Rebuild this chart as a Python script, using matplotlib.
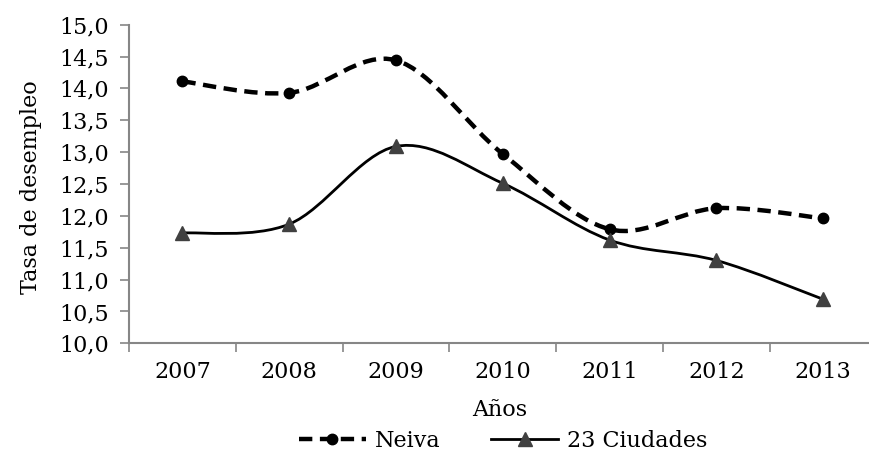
import matplotlib
matplotlib.use("Agg")
import matplotlib.pyplot as plt
from matplotlib.path import Path
from matplotlib.patches import PathPatch
from matplotlib.lines import Line2D
import numpy as np

years = ["2007", "2008", "2009", "2010", "2011", "2012", "2013"]
neiva = [14.11, 13.93, 14.44, 12.97, 11.79, 12.12, 11.96]
ciudades = [11.73, 11.87, 13.09, 12.51, 11.62, 11.30, 10.69]
yticks = [10.0, 10.5, 11.0, 11.5, 12.0, 12.5, 13.0, 13.5, 14.0, 14.5, 15.0]
labels = ["Neiva", "23 Ciudades"]

FONT = "DejaVu Serif"
FS = 16
plt.rcParams["font.family"] = FONT

fig = plt.figure(figsize=(8.7, 4.55), dpi=100)
ax = fig.add_axes([129/870, 1-343.3/455, (876.7-129)/870, (343.3-24.7)/455])


def smooth_path(xs, ys):
    pts = np.column_stack([xs, ys]).astype(float)
    n = len(pts)
    verts = [pts[0]]
    codes = [Path.MOVETO]
    for i in range(n - 1):
        p0 = pts[max(i - 1, 0)]
        p1 = pts[i]
        p2 = pts[i + 1]
        p3 = pts[min(i + 2, n - 1)]
        c1 = p1 + (p2 - p0) / 6.0
        c2 = p2 - (p3 - p1) / 6.0
        verts += [c1, c2, p2]
        codes += [Path.CURVE4] * 3
    return Path(verts, codes)


x = np.arange(len(years))
gray = "#868686"
dash = (0, (3.0, 1.7))

p1 = PathPatch(smooth_path(x, neiva), facecolor="none", edgecolor="black",
               lw=3.2, linestyle=dash, zorder=3)
ax.add_patch(p1)
p2 = PathPatch(smooth_path(x, ciudades), facecolor="none", edgecolor="black",
               lw=2.0, zorder=3)
ax.add_patch(p2)
ax.plot(x, neiva, linestyle="none", marker="o", ms=7.5, color="black", zorder=4)
ax.plot(x, ciudades, linestyle="none", marker="^", ms=9.5, color="#404040", zorder=4)

ax.set_xlim(-0.5, 6.5)
ax.set_ylim(10, 15)
ax.set_yticks(yticks)
ax.set_yticklabels([f"{v:.1f}".replace(".", ",") for v in yticks])
ax.set_xticks(np.arange(-0.5, 7.0, 1.0))
ax.set_xticklabels([])
ax.set_xticks(x, minor=True)
ax.set_xticklabels(years, minor=True)
ax.tick_params(axis="x", which="major", length=6.5, width=1.2, color=gray, direction="out")
ax.tick_params(axis="x", which="minor", length=0, pad=13, labelsize=FS)
ax.tick_params(axis="y", length=6.5, width=1.2, color=gray, direction="out", pad=8, labelsize=FS)
for s in ["top", "right"]:
    ax.spines[s].set_visible(False)
for s in ["left", "bottom"]:
    ax.spines[s].set_color(gray)
    ax.spines[s].set_linewidth(1.5)

fig.text(31/870, 1-187/455, "Tasa de desempleo", rotation=90, ha="center", va="center", fontsize=FS)
fig.text(500/870, 1-410/455, "Años", ha="center", va="center", fontsize=FS)

h1 = Line2D([], [], color="black", lw=3.2, linestyle=dash, marker="o", ms=7.5)
h2 = Line2D([], [], color="black", lw=2.0, marker="^", ms=9.5, markerfacecolor="#404040", markeredgecolor="#404040")
fig.legend([h1, h2], labels, loc="center", bbox_to_anchor=(503/870, 1-441/455), ncol=2,
           frameon=False, fontsize=FS, handlelength=3.0, handletextpad=0.4, columnspacing=2.3,
           borderpad=0, borderaxespad=0)

fig.savefig("out.png", dpi=100)
